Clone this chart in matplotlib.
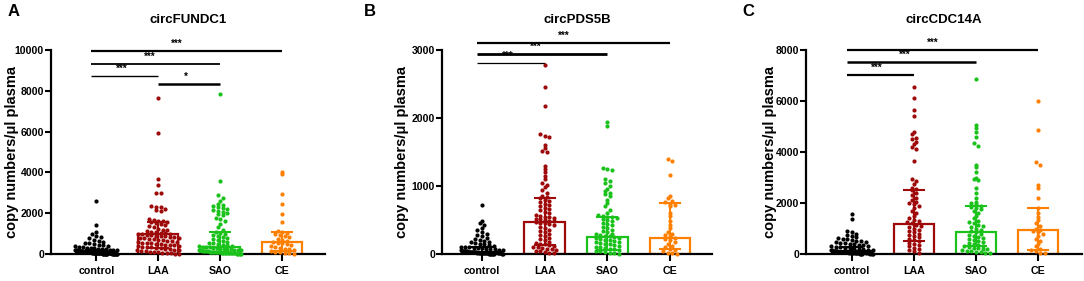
import matplotlib
matplotlib.use('Agg')
import matplotlib.pyplot as plt
import numpy as np

plt.rcParams['font.family'] = ['Liberation Sans', 'DejaVu Sans']
plt.rcParams['font.weight'] = 'bold'

groups = ['control', 'LAA', 'SAO', 'CE']
colors = ['#000000', '#9E0A0A', '#1CC21C', '#FF8000']

# ---- panel A: circFUNDC1 ----
ctrl_A = [2600, 1420, 1100, 980, 900, 820, 760, 700, 650, 600, 560, 520, 480, 450, 420, 400,
          380, 350, 330, 310, 290, 270, 250, 240, 230, 220, 210, 200, 190, 185, 180, 170, 165,
          160, 150, 145, 140, 135, 130, 125, 120, 115, 110, 105, 100, 100, 95, 90, 90, 85, 80,
          80, 75, 70, 70, 65, 60, 60, 55, 50, 50, 45, 40, 40, 35, 30, 30, 25, 20, 20, 15, 10,
          10, 5, 5, 90, 80, 70, 60, 50, 40, 30, 20, 12, 8, 6, 4, 3, 2, 1]
laa_A = [7650, 5950, 3700, 3380, 3000, 2980, 2350, 2300, 2280, 2200, 2150, 2100, 1700, 1650,
         1620, 1600, 1580, 1550, 1520, 1450, 1400, 1350, 1300, 1250, 1200, 1180, 1150, 1100,
         1080, 1050, 1020, 1000, 980, 960, 950, 930, 900, 880, 860, 840, 820, 800, 780, 760,
         740, 720, 700, 680, 650, 620, 600, 580, 560, 540, 520, 500, 480, 460, 440, 420, 400,
         380, 360, 340, 320, 300, 280, 260, 240, 220, 200, 180, 160, 140, 120, 100, 80, 60,
         40, 30, 20, 10]
sao_A = [7850, 3600, 2900, 2750, 2600, 2450, 2380, 2330, 2300, 2250, 2200, 2150, 2100, 2050,
         2000, 1950, 1900, 1750, 1700, 1600, 1450, 1300, 1200, 1100, 1050, 1000, 950, 900, 850,
         800, 750, 700, 650, 600, 560, 520, 480, 450, 420, 400, 380, 360, 340, 320, 300, 280,
         260, 250, 240, 230, 220, 210, 200, 190, 180, 170, 160, 150, 140, 130, 120, 110, 100,
         95, 90, 85, 80, 75, 70, 65, 60, 55, 50, 45, 40, 35, 30, 25, 20, 15, 10, 5]
ce_A = [4020, 3920, 2950, 2450, 1950, 1550, 1120, 1100, 1050, 980, 950, 900, 850, 750, 700,
        620, 580, 560, 520, 480, 420, 380, 330, 300, 260, 230, 200, 160, 120, 90, 60, 30, 10]
med_A = [100, 960, 360, 570]
q1_A = [30, 300, 80, 150]
q3_A = [200, 1580, 1070, 1090]

# ---- panel B: circPDS5B ----
ctrl_B = [720, 480, 450, 420, 380, 350, 320, 300, 280, 260, 240, 220, 200, 190, 180, 170, 160,
          150, 140, 130, 120, 110, 105, 100, 95, 90, 85, 80, 75, 70, 65, 60, 55, 50, 48, 45, 42,
          40, 38, 36, 34, 32, 30, 30, 28, 26, 25, 24, 22, 20, 20, 18, 16, 15, 14, 12, 10, 10,
          8, 6, 5, 4, 3, 2, 1, 35, 30, 25, 20, 15, 10, 8, 5, 3]
laa_B = [2780, 2460, 2180, 1760, 1740, 1720, 1600, 1560, 1520, 1500, 1300, 1250, 1200, 1150,
         1100, 1050, 1020, 980, 940, 900, 860, 840, 820, 800, 780, 760, 740, 720, 700, 680, 660,
         640, 620, 600, 580, 560, 550, 540, 530, 520, 510, 500, 490, 480, 470, 460, 450, 440,
         420, 400, 380, 360, 340, 320, 300, 280, 260, 240, 220, 200, 180, 160, 150, 140, 130,
         120, 110, 100, 90, 80, 70, 60, 50, 40, 30, 20, 10]
sao_B = [1940, 1880, 1260, 1250, 1240, 1100, 1080, 1050, 1000, 950, 930, 900, 880, 850, 800,
         750, 700, 650, 600, 580, 560, 550, 540, 530, 520, 500, 480, 460, 440, 420, 400, 380,
         360, 340, 320, 300, 290, 280, 270, 260, 250, 240, 230, 220, 210, 200, 190, 180, 170,
         160, 150, 140, 130, 120, 110, 100, 90, 80, 70, 60, 50, 40, 30, 20, 10, 5]
ce_B = [1390, 1370, 1160, 860, 820, 780, 760, 740, 720, 700, 600, 560, 480, 420, 380, 330, 300,
        280, 260, 240, 220, 200, 180, 150, 120, 100, 80, 60, 40, 20, 10, 5]
med_B = [30, 466, 255, 235]
q1_B = [10, 130, 60, 70]
q3_B = [107, 819, 549, 745]

# ---- panel C: circCDC14A ----
ctrl_C = [1580, 1360, 900, 850, 800, 750, 700, 650, 620, 600, 580, 550, 520, 500, 480, 460,
          440, 420, 400, 380, 360, 340, 320, 300, 280, 260, 240, 220, 200, 190, 180, 170, 160,
          150, 140, 130, 120, 110, 100, 95, 90, 85, 80, 75, 70, 65, 60, 55, 50, 45, 40, 35, 30,
          25, 20, 15, 10, 5, 90, 70, 50, 30, 20, 10, 5, 2]
laa_C = [6550, 6100, 5650, 5400, 4800, 4700, 4550, 4500, 4400, 4300, 4200, 4100, 3650, 2950,
         2850, 2750, 2600, 2550, 2500, 2400, 2300, 2200, 2100, 2050, 2000, 1950, 1900, 1800,
         1700, 1600, 1500, 1400, 1350, 1300, 1250, 1200, 1150, 1100, 1050, 1000, 950, 900, 850,
         800, 750, 700, 650, 600, 550, 500, 450, 400, 350, 300, 250, 200, 150, 100, 50]
sao_C = [6880, 5050, 4950, 4800, 4600, 4350, 4250, 3500, 3400, 3200, 3000, 2950, 2900, 2600,
         2400, 2200, 2050, 2000, 1950, 1900, 1850, 1800, 1750, 1700, 1600, 1500, 1400, 1300,
         1250, 1200, 1150, 1100, 1050, 1000, 950, 900, 850, 800, 760, 720, 680, 640, 600, 560,
         520, 480, 440, 400, 360, 320, 300, 280, 250, 220, 200, 180, 150, 120, 100, 80, 60, 40, 20]
ce_C = [6000, 4850, 3600, 3500, 2700, 2600, 2200, 1800, 1600, 1450, 1350, 1200, 1100, 1000, 950,
        900, 850, 800, 700, 600, 500, 400, 300, 200, 150, 100, 50, 20]
med_C = [100, 1176, 862, 953]
q1_C = [40, 520, 300, 170]
q3_C = [280, 2520, 1866, 1803]

# significance brackets: (from, to, height, linewidth, label)
sig_A = [(0, 3, 9950, 1.6, '***'), (0, 2, 9330, 1.3, '***'),
         (0, 1, 8725, 1.0, '***'), (1, 2, 8333, 1.8, '*')]
sig_B = [(0, 3, 3098, 1.6, '***'), (0, 2, 2936, 2.0, '***'), (0, 1, 2803, 0.9, '***')]
sig_C = [(0, 3, 8000, 1.6, '***'), (0, 2, 7514, 1.8, '***'), (0, 1, 7017, 1.6, '***')]

panels = [
    dict(letter='A', title='circFUNDC1', data=[ctrl_A, laa_A, sao_A, ce_A],
         med=med_A, q1=q1_A, q3=q3_A, sig=sig_A, ymax=10000, step=2000,
         left=51, width=274, xlim=(-0.73, 3.69), ylab_x=12, letter_x=14),
    dict(letter='B', title='circPDS5B', data=[ctrl_B, laa_B, sao_B, ce_B],
         med=med_B, q1=q1_B, q3=q3_B, sig=sig_B, ymax=3000, step=1000,
         left=442, width=270, xlim=(-0.64, 3.67), ylab_x=402, letter_x=370),
    dict(letter='C', title='circCDC14A', data=[ctrl_C, laa_C, sao_C, ce_C],
         med=med_C, q1=q1_C, q3=q3_C, sig=sig_C, ymax=8000, step=2000,
         left=806, width=276, xlim=(-0.74, 3.71), ylab_x=770, letter_x=748),
]

W, H = 1084, 281
ax_bottom, ax_h = 254, 204   # pixel row of y=0, axis height in px


def swarm(vals, units_per_px, px_per_cat, dot_px=4.0, gap_px=4.6, max_half_px=21):
    # GraphPad-like: bin into rows one dot high, spread each row sideways
    vals = np.asarray(vals, dtype=float)
    rows = np.floor(vals / (dot_px * units_per_px)).astype(int)
    offs = np.zeros(len(vals))
    for r in np.unique(rows):
        idx = np.where(rows == r)[0]
        k = len(idx)
        step = gap_px
        if k > 1 and (k - 1) * step / 2 > max_half_px:
            step = 2 * max_half_px / (k - 1)
        offs[idx] = (np.arange(k) - (k - 1) / 2) * step / px_per_cat
    return offs


fig = plt.figure(figsize=(W / 100, H / 100), dpi=100)

for p in panels:
    ax = fig.add_axes([p['left'] / W, (H - ax_bottom) / H, p['width'] / W, ax_h / H])
    ax.set_xlim(*p['xlim'])
    ax.set_ylim(0, p['ymax'])
    upp = p['ymax'] / ax_h
    ppc = p['width'] / (p['xlim'][1] - p['xlim'][0])
    x = np.arange(len(groups))

    ax.bar(x, p['med'], width=0.65, facecolor='none', edgecolor=colors,
           linewidth=1.6, zorder=2)
    for i, vals in enumerate(p['data']):
        xo = i + swarm(vals, upp, ppc)
        ax.scatter(xo, vals, s=9, color=colors[i], linewidths=0, zorder=3, clip_on=False)
    for i in range(len(groups)):
        ax.errorbar(x[i], p['med'][i],
                    yerr=[[p['med'][i] - p['q1'][i]], [p['q3'][i] - p['med'][i]]],
                    color=colors[i], elinewidth=1.5, capsize=8, capthick=1.5, zorder=4)

    for a, b, yv, lw, lab in p['sig']:
        x0 = a - 0.08 if a == 0 else a
        ax.plot([x0, b], [yv, yv], color='black', lw=lw, clip_on=False, solid_capstyle='butt')
        ax.annotate(lab, xy=(x0 + 0.45 * (b - x0), yv), xytext=(0, 1.5),
                    textcoords='offset points', ha='center', va='bottom',
                    fontsize=7, annotation_clip=False)

    ax.set_xticks(x)
    ax.set_xticklabels(groups, fontsize=7.7, fontweight='bold')
    ax.set_yticks(np.arange(0, p['ymax'] + 1, p['step']))
    ax.set_yticklabels([str(v) for v in np.arange(0, p['ymax'] + 1, p['step'])],
                       fontsize=7.6, fontweight='bold')
    ax.tick_params(axis='x', length=5, width=1.5, pad=4)
    ax.tick_params(axis='y', length=4, width=1.5, pad=1)
    for s in ['top', 'right']:
        ax.spines[s].set_visible(False)
    for s in ['left', 'bottom']:
        ax.spines[s].set_linewidth(1.6)

    fig.text((p['left'] + p['width'] / 2) / W, (H - 20) / H, p['title'],
             ha='center', va='center', fontsize=9.5, fontweight='bold')
    fig.text(p['letter_x'] / W, (H - 12) / H, p['letter'],
             ha='center', va='center', fontsize=12, fontweight='bold')
    fig.text(p['ylab_x'] / W, (H - 152) / H, 'copy numbers/μl plasma',
             rotation=90, ha='center', va='center', fontsize=10.5, fontweight='bold')

fig.savefig('out.png', dpi=100, facecolor='white')
